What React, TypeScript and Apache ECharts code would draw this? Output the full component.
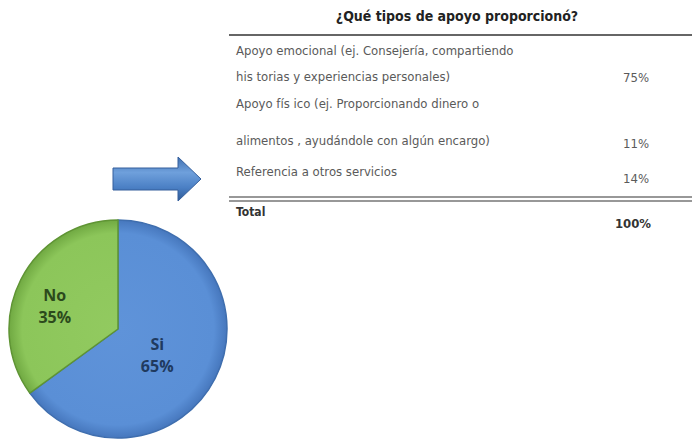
import React, { useEffect, useRef } from "react";
import * as echarts from "echarts";

const pieCategories = ["Si", "No"];
const pieValues = [65, 35];
const tableTitle = "¿Qué tipos de apoyo proporcionó?";
const rowLines = [
  ["Apoyo emocional (ej. Consejería, compartiendo", "his torias y experiencias personales)"],
  ["Apoyo fís ico (ej. Proporcionando dinero o", "alimentos , ayudándole con algún encargo)"],
  ["Referencia a otros servicios"],
];
const rowValues = ["75%", "11%", "14%"];
const totalLabel = "Total";
const totalValue = "100%";

const FONT = "'DejaVu Sans Condensed', 'Liberation Sans', sans-serif";

export default function App() {
  const ref = useRef<HTMLDivElement>(null);
  useEffect(() => {
    document.body.style.margin = "0";
    const chart = echarts.init(ref.current!, null, { renderer: "svg" });
    const textColor = "#5a5a5a";
    const graphics: any[] = [];
    graphics.push({
      type: "text",
      x: 457,
      y: 16,
      style: { text: tableTitle, font: `bold 14px ${FONT}`, fill: "#222", textAlign: "center", textVerticalAlign: "middle" },
    });
    graphics.push({ type: "line", shape: { x1: 229, y1: 35, x2: 692, y2: 35 }, style: { stroke: "#333", lineWidth: 1.5 } });
    const lineYs = [[50, 76], [103, 140], [171]];
    const valYs = [77, 143, 178];
    rowLines.forEach((lines, i) => {
      lines.forEach((t, j) => {
        graphics.push({
          type: "text",
          x: 236,
          y: lineYs[i][j],
          style: { text: t, font: `13px ${FONT}`, fill: textColor, textVerticalAlign: "middle" },
        });
      });
      graphics.push({
        type: "text",
        x: 636,
        y: valYs[i],
        style: { text: rowValues[i], font: `13px ${FONT}`, fill: textColor, textAlign: "center", textVerticalAlign: "middle" },
      });
    });
    graphics.push({ type: "line", shape: { x1: 229, y1: 197, x2: 692, y2: 197 }, style: { stroke: "#333", lineWidth: 1.2 } });
    graphics.push({ type: "line", shape: { x1: 229, y1: 201, x2: 692, y2: 201 }, style: { stroke: "#333", lineWidth: 1.2 } });
    graphics.push({
      type: "text",
      x: 236,
      y: 212,
      style: { text: totalLabel, font: `bold 12px ${FONT}`, fill: "#333", textVerticalAlign: "middle" },
    });
    graphics.push({
      type: "text",
      x: 633,
      y: 223,
      style: { text: totalValue, font: `bold 13px ${FONT}`, fill: "#333", textAlign: "center", textVerticalAlign: "middle" },
    });
    graphics.push({
      type: "polygon",
      shape: {
        points: [
          [113, 168], [178, 168], [178, 157], [201, 179], [178, 201], [178, 190], [113, 190],
        ],
      },
      style: {
        fill: new echarts.graphic.LinearGradient(0, 0, 0, 1, [
          { offset: 0, color: "#3f6fb0" },
          { offset: 0.35, color: "#6fa0dc" },
          { offset: 0.7, color: "#4a7fc4" },
          { offset: 1, color: "#2f5a96" },
        ]),
        stroke: "#355f9c",
        lineWidth: 1,
      },
    });

    const cx = 118, cy = 329, r = 109;
    chart.setOption({
      animation: false,
      graphic: graphics,
      series: [
        {
          type: "pie",
          center: [cx, cy],
          radius: r,
          startAngle: 90,
          clockwise: true,
          label: {
            show: true,
            position: "inner",
            formatter: (p: any) => `${p.name}\n${p.value}%`,
            fontFamily: "'Open Sans', 'DejaVu Sans', sans-serif",
            fontWeight: "bold",
            fontSize: 16,
            lineHeight: 22,
          },
          labelLine: { show: false },
          data: pieCategories.map((n, i) => ({
            name: n,
            value: pieValues[i],
            itemStyle:
              i === 0
                ? {
                    color: new echarts.graphic.RadialGradient(cx, cy, r, [
                      { offset: 0, color: "#5f93d9" },
                      { offset: 0.88, color: "#5a8fd6" },
                      { offset: 1, color: "#4677bd" },
                    ], true),
                    borderColor: "#3f6eae",
                    borderWidth: 1.5,
                  }
                : {
                    color: new echarts.graphic.RadialGradient(cx, cy, r, [
                      { offset: 0, color: "#92ca60" },
                      { offset: 0.88, color: "#8cc65a" },
                      { offset: 1, color: "#70a942" },
                    ], true),
                    borderColor: "#5f9434",
                    borderWidth: 1.5,
                  },
            label: i === 0 ? { color: "#1f3a5f", offset: [-12, 0] } : { color: "#2c4a1c", offset: [-12, 3] },
          })),
        },
      ],
    });
    return () => chart.dispose();
  }, []);
  return <div ref={ref} style={{ position: "fixed", left: 0, top: 0, width: 695, height: 439, background: "#fff" }} />;
}
